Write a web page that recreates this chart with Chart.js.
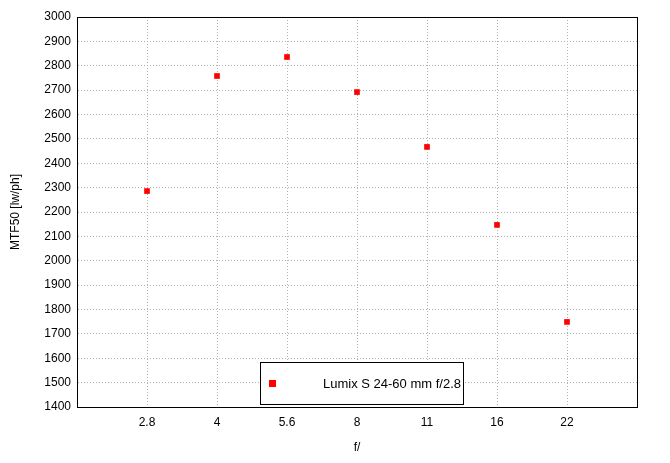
<!DOCTYPE html>
<html>
<head>
<meta charset="utf-8">
<script src="https://cdn.jsdelivr.net/npm/chart.js@4"></script>
<style>
  body { margin: 0; background: #fff; }
  #wrap { width: 670px; height: 463px; }
</style>
</head>
<body>
<div id="wrap"><canvas id="mtfChart"></canvas></div>
<script>
// aperture values and measured resolution
const apertures = ["2.8", "4", "5.6", "8", "11", "16", "22"];
const mtf50 = [2286, 2758, 2836, 2692, 2467, 2147, 1749];
const seriesName = "Lumix S 24-60 mm f/2.8";

const points = mtf50.map((v, i) => ({ x: i + 1, y: v }));
const font = { family: "'Liberation Sans', Arial, sans-serif", size: 12 };

// legend box drawn inside the plot, bottom centre
const boxLegend = {
    id: "boxLegend",
    afterDraw(chart) {
        const ctx = chart.ctx;
        const x0 = 260, y0 = 362, w = 203, h = 42;
        ctx.save();
        ctx.fillStyle = "#fff";
        ctx.fillRect(x0, y0, w, h);
        ctx.strokeStyle = "#000";
        ctx.lineWidth = 1;
        ctx.strokeRect(x0 + 0.5, y0 + 0.5, w, h);
        ctx.fillStyle = "#ff0000";
        ctx.fillRect(269, 380, 7, 7);
        ctx.fillStyle = "#000";
        ctx.font = "13px 'Liberation Sans', Arial, sans-serif";
        ctx.textBaseline = "middle";
        ctx.textAlign = "right";
        ctx.fillText(seriesName, 461, 384);
        ctx.restore();
    }
};

new Chart(document.getElementById("mtfChart"), {
    type: "scatter",
    data: {
        datasets: [{
            label: seriesName,
            data: points,
            pointStyle: "rect",
            pointRadius: 4,
            backgroundColor: "#ff0000",
            borderColor: "#ff0000",
            borderWidth: 0
        }]
    },
    options: {
        responsive: true,
        maintainAspectRatio: false,
        animation: false,
        layout: { padding: { top: 17, right: 33, bottom: 4, left: 4 } },
        plugins: { legend: { display: false }, tooltip: { enabled: false } },
        scales: {
            x: {
                type: "linear",
                min: 0,
                max: 8,
                afterBuildTicks: axis => {
                    axis.ticks = apertures.map((_, i) => ({ value: i + 1 }));
                },
                afterFit: axis => { axis.height = 52; },
                ticks: { callback: v => apertures[v - 1] || "", color: "#000", font: font, padding: 8 },
                grid: { color: "#b0b0b0", drawTicks: false },
                border: { color: "#000", dash: [1, 2] },
                title: { display: true, text: "f/", color: "#000", font: font, padding: { top: 12 } }
            },
            y: {
                min: 1400,
                max: 3000,
                afterFit: axis => { axis.width = 73; },
                ticks: { stepSize: 100, callback: v => String(v), color: "#000", font: font, padding: 6 },
                grid: { color: "#b0b0b0", drawTicks: false },
                border: { color: "#000", dash: [1, 2] },
                title: { display: true, text: "MTF50 [lw/ph]", color: "#000", font: font }
            }
        }
    },
    plugins: [boxLegend, {
        id: "frame",
        afterDraw(chart) {
            const a = chart.chartArea, ctx = chart.ctx;
            ctx.save();
            ctx.strokeStyle = "#000";
            ctx.lineWidth = 1;
            ctx.strokeRect(Math.round(a.left) + 0.5, Math.round(a.top) + 0.5,
                           Math.round(a.right - a.left), Math.round(a.bottom - a.top));
            ctx.restore();
        }
    }]
});
</script>
</body>
</html>
